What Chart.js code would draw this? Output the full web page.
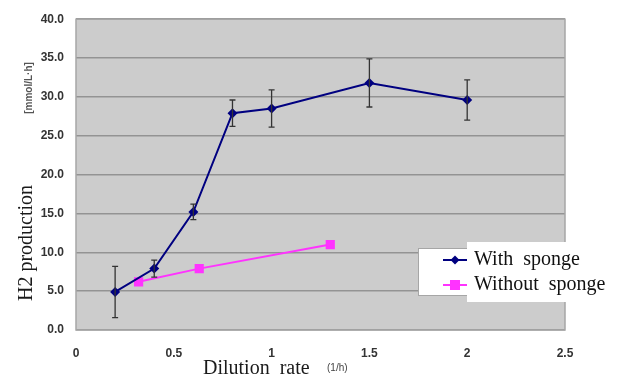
<!DOCTYPE html>
<html>
<head>
<meta charset="utf-8">
<script src="https://cdn.jsdelivr.net/npm/chart.js@4.4.0/dist/chart.umd.min.js"></script>
<style>
    html, body { margin: 0; padding: 0; background: #fff; }
    #wrap { position: relative; width: 617px; height: 377px; }
</style>
</head>
<body>
<div id="wrap"><canvas id="h2Chart" width="617" height="377"></canvas></div>
<script>
// Values
const withX = [0.2, 0.4, 0.6, 0.8, 1.0, 1.5, 2.0];
const withY = [4.9, 7.9, 15.2, 27.9, 28.5, 31.8, 29.6];
const withErr = [3.3, 1.1, 1.0, 1.7, 2.4, 3.1, 2.6];
const withoutX = [0.32, 0.63, 1.3];
const withoutY = [6.2, 7.9, 11.0];
const xTicks = [0, 0.5, 1, 1.5, 2, 2.5];
const yTicks = [0, 5, 10, 15, 20, 25, 30, 35, 40];

const toPoints = (xs, ys) => xs.map((x, i) => ({ x: x, y: ys[i] }));

// grey plot background + frame
const plotBackground = {
    id: 'plotBackground',
    beforeDraw(chart) {
        const { ctx, chartArea: a } = chart;
        ctx.save();
        ctx.fillStyle = '#cccccc';
        ctx.fillRect(a.left, a.top, a.right - a.left, a.bottom - a.top);
        ctx.restore();
    },
    afterDatasetsDraw(chart) {
        const { ctx, chartArea: a } = chart;
        ctx.save();
        ctx.strokeStyle = '#a6a6a6';
        ctx.lineWidth = 1.5;
        ctx.strokeRect(a.left, a.top, a.right - a.left, a.bottom - a.top);
        ctx.restore();
    }
};

const errorBars = {
    id: 'errorBars',
    afterDatasetsDraw(chart) {
        const { ctx, scales: { x, y } } = chart;
        ctx.save();
        ctx.strokeStyle = '#333333';
        ctx.lineWidth = 1.3;
        withX.forEach((v, i) => {
            const px = x.getPixelForValue(v);
            const top = y.getPixelForValue(withY[i] + withErr[i]);
            const bot = y.getPixelForValue(withY[i] - withErr[i]);
            ctx.beginPath();
            ctx.moveTo(px, top); ctx.lineTo(px, bot);
            ctx.moveTo(px - 3, top); ctx.lineTo(px + 3, top);
            ctx.moveTo(px - 3, bot); ctx.lineTo(px + 3, bot);
            ctx.stroke();
        });
        ctx.restore();
    }
};

// axis titles and legend box, placed like the original
const extras = {
    id: 'extras',
    afterDraw(chart) {
        const ctx = chart.ctx;
        ctx.save();
        ctx.fillStyle = '#1a1a1a';
        ctx.textBaseline = 'middle';

        ctx.save();
        ctx.translate(27, 243);
        ctx.rotate(-Math.PI / 2);
        ctx.textAlign = 'center';
        ctx.font = '20px "Liberation Serif", serif';
        ctx.fillText('H2 production', 0, 0);
        ctx.restore();

        ctx.save();
        ctx.translate(29, 88);
        ctx.rotate(-Math.PI / 2);
        ctx.textAlign = 'center';
        ctx.font = 'bold 10px "Liberation Sans", sans-serif';
        ctx.fillStyle = '#555';
        ctx.fillText('[mmol/L·h]', 0, 0);
        ctx.restore();

        ctx.textAlign = 'left';
        ctx.font = '20px "Liberation Serif", serif';
        ctx.fillText('Dilution  rate', 203, 369);
        ctx.font = '10px "Liberation Sans", sans-serif';
        ctx.fillStyle = '#444';
        ctx.fillText('(1/h)', 327, 368);

        // legend
        ctx.fillStyle = '#ffffff';
        ctx.fillRect(418, 248, 60, 47);
        ctx.strokeStyle = '#a6a6a6';
        ctx.lineWidth = 1;
        ctx.strokeRect(418.5, 248.5, 60, 47);
        ctx.fillRect(467, 242, 140, 60);

        const rows = [
            { label: 'With  sponge', color: '#000080', y: 260, shape: 'diamond' },
            { label: 'Without  sponge', color: '#ff33ff', y: 285, shape: 'square' }
        ];
        rows.forEach(r => {
            ctx.strokeStyle = r.color;
            ctx.fillStyle = r.color;
            ctx.lineWidth = 2;
            ctx.beginPath();
            ctx.moveTo(443, r.y); ctx.lineTo(467, r.y);
            ctx.stroke();
            if (r.shape === 'diamond') {
                ctx.beginPath();
                ctx.moveTo(455, r.y - 4.5); ctx.lineTo(459.5, r.y);
                ctx.lineTo(455, r.y + 4.5); ctx.lineTo(450.5, r.y);
                ctx.closePath(); ctx.fill();
            } else {
                ctx.fillRect(450, r.y - 5, 10, 10);
            }
            ctx.fillStyle = '#111';
            ctx.font = '20px "Liberation Serif", serif';
            ctx.fillText(r.label, 474, r.y);
        });
        ctx.restore();
    }
};

const tickFont = { family: '"Liberation Sans", sans-serif', size: 12, weight: 'bold' };

new Chart(document.getElementById('h2Chart'), {
    type: 'scatter',
    data: {
        datasets: [{
            label: 'With sponge',
            data: toPoints(withX, withY),
            showLine: true,
            borderColor: '#000080',
            backgroundColor: '#000080',
            borderWidth: 2,
            pointStyle: 'rectRot',
            pointRadius: 5,
            pointBorderWidth: 0
        }, {
            label: 'Without sponge',
            data: toPoints(withoutX, withoutY),
            showLine: true,
            borderColor: '#ff33ff',
            backgroundColor: '#ff33ff',
            borderWidth: 2,
            pointStyle: 'rect',
            pointRadius: 6.5,
            pointBorderWidth: 0
        }]
    },
    options: {
        responsive: false,
        animation: false,
        layout: { padding: { top: 15, right: 52, left: 0, bottom: 0 } },
        plugins: { legend: { display: false }, tooltip: { enabled: false } },
        scales: {
            x: {
                type: 'linear',
                min: 0, max: 2.5,
                afterBuildTicks: s => { s.ticks = xTicks.map(v => ({ value: v })); },
                afterFit: s => { s.height = 47; },
                grid: { display: false, drawOnChartArea: false },
                border: { display: false },
                ticks: {
                    color: '#333',
                    font: tickFont,
                    padding: 8,
                    maxRotation: 0,
                    callback: v => String(v)
                }
            },
            y: {
                min: 0, max: 40,
                afterBuildTicks: s => { s.ticks = yTicks.map(v => ({ value: v })); },
                afterFit: s => { s.width = 76; },
                grid: { color: '#939393', lineWidth: 1.5, drawTicks: false },
                border: { display: false },
                ticks: {
                    color: '#333',
                    font: tickFont,
                    padding: 12,
                    callback: v => v.toFixed(1)
                }
            }
        }
    },
    plugins: [plotBackground, errorBars, extras]
});
</script>
</body>
</html>
